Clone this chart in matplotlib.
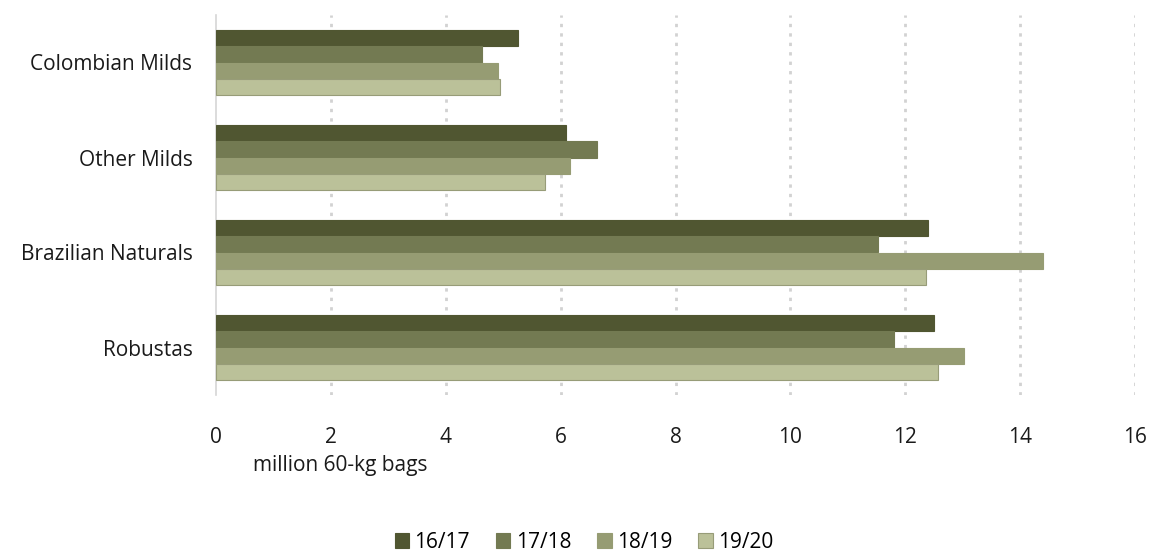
import matplotlib
matplotlib.use("Agg")
import matplotlib.pyplot as plt
import numpy as np

categories = ["Colombian Milds", "Other Milds", "Brazilian Naturals", "Robustas"]
seasons = ["16/17", "17/18", "18/19", "19/20"]
v_1617 = [5.26, 6.10, 12.40, 12.50]
v_1718 = [4.63, 6.64, 11.52, 11.81]
v_1819 = [4.91, 6.16, 14.39, 13.02]
v_1920 = [4.94, 5.72, 12.36, 12.57]
series = [v_1617, v_1718, v_1819, v_1920]
xticks = [0, 2, 4, 6, 8, 10, 12, 14, 16]

colors = ["#505631", "#737A52", "#969C73", "#BBC199"]
edges = ["#505631", "#737A52", "#969C73", "#979C78"]

plt.rcParams['font.family'] = ['Open Sans', 'DejaVu Sans']

fig = plt.figure(figsize=(11.5, 5.51), dpi=100)
ax = fig.add_axes([216/1150, 1-395/551, (1135-216)/1150, (395-15)/551])

n = len(categories)
bh = 0.171
y0 = np.arange(n)
for i, (vals, c, e) in enumerate(zip(series, colors, edges)):
    ys = y0 + (i - 1.5) * bh
    ax.barh(ys, vals, height=bh, color=c, edgecolor=e, linewidth=0.8, label=seasons[i], zorder=3)

ax.set_ylim(n - 0.5, -0.5)
ax.set_xlim(0, 16)
ax.set_yticks(y0)
ax.set_yticklabels(categories, fontsize=15, color="#1a1a1a")
ax.set_xticks(xticks)
ax.set_xticklabels([str(t) for t in xticks], fontsize=15, color="#1a1a1a")
ax.tick_params(axis='both', length=0)
ax.tick_params(axis='y', pad=17)
ax.tick_params(axis='x', pad=23)
for t in xticks[1:]:
    ax.axvline(t, color="#D2D2D2", linestyle=(0, (1.2, 2.2)), linewidth=2, zorder=1)
for s in ["top", "right", "bottom"]:
    ax.spines[s].set_visible(False)
ax.spines["left"].set_color("#D6D6D6")
ax.spines["left"].set_linewidth(1.2)

fig.text(340/1150, 1-466/551, "million 60-kg bags", fontsize=15, ha="center", va="center", color="#1a1a1a")

leg = fig.legend(loc="center", bbox_to_anchor=(584/1150, 1-542/551), ncol=4, frameon=False,
                 fontsize=15, handlelength=0.7, handleheight=0.7, handletextpad=0.25, columnspacing=1.25)

fig.savefig("out.png", dpi=100)
